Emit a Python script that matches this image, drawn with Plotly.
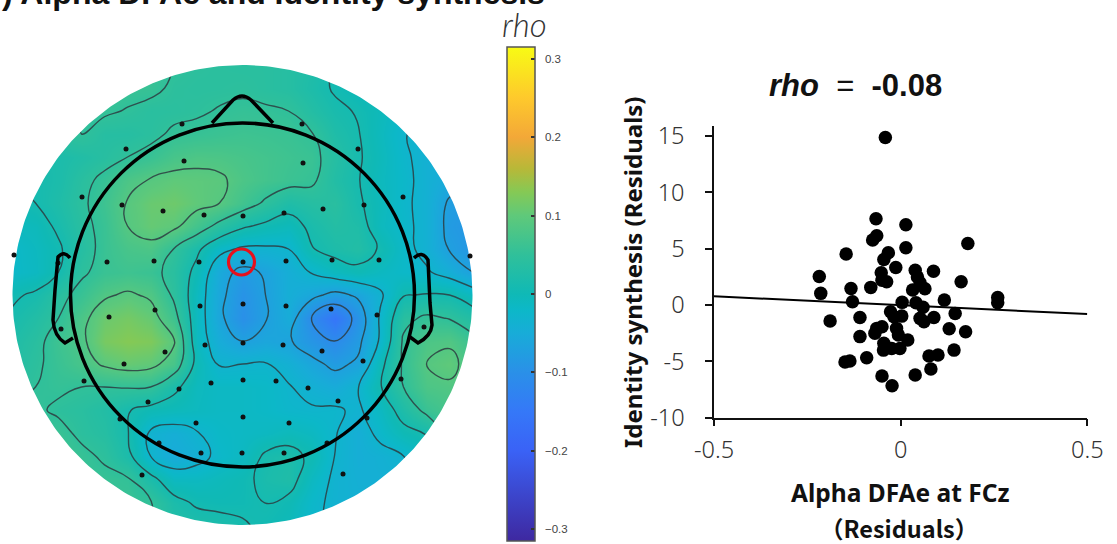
import numpy as np
import plotly.graph_objects as go

# ---------- data ----------
map_x = [12.5 + 23 * i for i in range(21)]
map_y = [65 + 23 * i for i in range(21)]
rho_top = [
 [.05,.05,.05,.06,.06,.06,.06,.05,.045,.042,.04,.04,.035,.025,.008,-.005,-.015,-.025,-.03,-.04,-.05],
 [.05,.05,.05,.06,.06,.06,.058,.045,.042,.043,.045,.04,.035,.022,.007,-.005,-.015,-.025,-.03,-.04,-.05],
 [.03,.03,.04,.05,.055,.048,.04,.042,.046,.052,.056,.054,.05,.032,.016,.008,-.005,-.02,-.03,-.04,-.05],
 [.03,.035,.045,.05,.035,.035,.042,.055,.058,.062,.065,.063,.06,.052,.025,.012,-.008,-.028,-.04,-.05,-.06],
 [.01,.015,.02,.028,.038,.05,.06,.075,.082,.08,.075,.07,.065,.06,.035,.014,-.005,-.025,-.04,-.05,-.06],
 [.01,.012,.02,.04,.058,.08,.092,.1,.098,.095,.08,.07,.062,.056,.03,.012,-.008,-.022,-.04,-.055,-.065],
 [.0,.01,.025,.044,.065,.092,.108,.112,.1,.09,.068,.045,.025,.035,.04,.015,-.005,-.024,-.04,-.075,-.085],
 [-.01,-.005,.016,.04,.06,.09,.105,.098,.07,.04,.015,.003,-.006,.018,.032,.025,-.008,-.022,-.04,-.08,-.09],
 [-.02,-.01,.005,.035,.06,.075,.08,.05,.018,-.02,-.035,-.035,-.03,.008,.022,.03,.006,-.02,-.04,-.072,-.09],
 [-.02,-.012,.01,.045,.06,.065,.06,.04,.0,-.055,-.08,-.066,-.045,-.028,-.01,.0,-.012,-.02,-.026,-.045,-.07],
 [.005,.015,.04,.06,.085,.095,.085,.045,-.01,-.06,-.095,-.07,-.045,-.06,-.08,-.065,-.035,.008,.012,.01,-.01],
]
rho_bottom = [
 [.015,.03,.05,.08,.11,.118,.105,.065,-.01,-.062,-.1,-.072,-.05,-.11,-.155,-.095,-.025,.04,.056,.048,.03],
 [.025,.04,.065,.082,.12,.13,.125,.095,-.01,-.05,-.07,-.06,-.066,-.09,-.11,-.08,-.025,.055,.08,.085,.06],
 [.03,.045,.06,.075,.095,.105,.1,.075,.0,-.032,-.03,-.028,-.04,-.06,-.078,-.065,.0,.055,.09,.1,.075],
 [.04,.05,.055,.05,.05,.052,.05,.018,-.008,-.015,-.015,-.018,-.028,-.04,-.05,-.032,.008,.05,.08,.085,.08],
 [.055,.055,.045,.04,.03,.012,.0,-.005,-.01,-.015,-.015,-.018,-.025,-.027,-.026,-.035,-.012,.025,.06,.075,.08],
 [.06,.06,.06,.043,.035,.012,-.035,-.045,-.032,-.018,-.015,-.012,-.005,-.012,-.028,-.045,-.022,.0,.012,.06,.07],
 [.07,.07,.07,.058,.045,.02,-.03,-.052,-.042,-.022,-.012,.015,.022,.003,-.03,-.045,-.04,-.03,-.01,.01,.04],
 [.06,.06,.06,.06,.058,.053,.02,-.012,-.012,-.005,.002,.018,.025,-.012,-.035,-.042,-.042,-.04,-.02,.0,.02],
 [.06,.06,.06,.06,.06,.06,.052,.02,.005,.002,.003,.011,.002,-.022,-.036,-.04,-.04,-.04,-.03,-.01,.01],
 [.06,.06,.06,.06,.06,.06,.05,.03,.025,.02,.013,.004,-.005,-.025,-.036,-.04,-.04,-.04,-.03,-.01,.01],
]
rho_grid = rho_top + rho_bottom

electrode_x = [182,302,126,358,184,303,82,403,122,163,204,243,284,323,364,14,470,58,107,154,199,243,286,332,379,
               200,243,286,331,377,109,155,61,424,165,124,205,243,283,322,363,84,401,211,243,276,308,179,148,338,
               120,367,243,196,289,159,327,201,242,284,142,343]
electrode_y = [124,124,149,149,161,163,197,197,205,211,215,216,213,209,205,255,256,263,262,261,262,262,261,260,260,
               306,304,306,309,315,317,310,329,327,352,364,345,343,345,351,361,381,379,383,380,381,388,389,402,401,
               419,418,417,423,423,443,443,453,453,453,475,474]

dfa_residuals = [-.041,-.066,.014,-.064,-.075,.014,.18,-.146,-.033,-.045,-.013,.039,.088,-.052,-.218,.045,-.0375,-.05,
                 .162,.052,-.133,-.08,.065,.032,-.214,.26,.26,.117,-.129,.004,.041,.06,-.027,.003,-.018,-.109,.089,
                 .052,.0625,.146,-.189,.13,.174,-.064,-.05,-.069,-.011,-.006,-.109,.019,-.045,-.024,-.002,-.046,.143,
                 .1,.076,-.091,-.136,-.149,.081,.039,-.05,-.023]
identity_residuals = [14.88,7.66,7.13,6.15,5.77,5.09,5.47,4.53,4.64,4.05,3.34,3.1,3.0,2.87,2.54,2.5,2.07,2.2,
                      2.07,1.98,1.48,1.57,1.45,1.33,1.04,.68,.2,.44,.3,.24,.2,-.2,-.6,-.98,-1.03,-1.1,-1.1,
                      -1.18,-1.48,-.74,-1.42,-2.1,-2.37,-2.07,-1.92,-2.5,-2.07,-2.66,-2.8,-3.1,-3.4,-3.85,-3.85,-4.0,-4.0,
                      -4.44,-4.53,-4.67,-4.97,-5.06,-5.68,-6.2,-6.3,-7.16]
fit_x = [-0.5, 0.5]
fit_y = [0.78, -0.8]

cbar_vals = [0.3, 0.2, 0.1, 0, -0.1, -0.2, -0.3]
cbar_text = ["\u00a0\u00a00.3", "\u00a0\u00a00.2", "\u00a0\u00a00.1", "\u00a0\u00a00", "\u00a0\u00a0−0.1", "\u00a0\u00a0−0.2", "\u00a0\u00a0−0.3"]
x_ticks = [-0.5, 0, 0.5]
x_labels = ["-0.5", "0", "0.5"]
y_ticks = [-10, -5, 0, 5, 10, 15]
y_labels = ["-10", "-5", "0", "5", "10", "15"]

# ---------- styling ----------
W, H = 1117, 544
ZMIN, ZMAX = -0.315, 0.315
stops = [(-.315, "#3e28a0"), (-.2, "#3a62f6"), (-.15, "#3578f8"), (-.1, "#2a90e8"), (-.05, "#18acd8"),
         (-.02, "#0cb8c8"), (0, "#0fb9b6"), (.05, "#30c09a"), (.1, "#5fc97a"), (.13, "#85c955"), (.16, "#b8b838"),
         (.2, "#f3a838"), (.25, "#fec92c"), (.315, "#f8fb14")]
colorscale = [[(v - ZMIN) / (ZMAX - ZMIN), c] for v, c in stops]
CX, CY, R, RH = 242.5, 295, 230, 172
TICKGREY = "#333333"
FONT = "Noto Sans"
BOLD = "Liberation Sans"

fig = go.Figure()

fig.add_trace(go.Heatmap(
    x=map_x, y=map_y, z=rho_grid, zmin=ZMIN, zmax=ZMAX, zsmooth="best",
    colorscale=colorscale, hoverinfo="skip", xaxis="x", yaxis="y",
    colorbar=dict(
        x=507 / W, xref="paper", xanchor="left", xpad=0, ypad=0,
        y=(H - 541) / H, yref="paper", yanchor="bottom", len=494 / H, lenmode="fraction",
        thickness=28, outlinecolor="#555555", outlinewidth=1.5,
        tickmode="array", tickvals=cbar_vals, ticktext=cbar_text,
        ticks="inside", ticklen=4, tickcolor="#333333", tickwidth=1.5,
        tickfont=dict(size=11.5, color="#444444", family=BOLD),
    ),
))
fig.add_trace(go.Contour(
    x=map_x, y=map_y, z=rho_grid, showscale=False, hoverinfo="skip", xaxis="x", yaxis="y",
    contours=dict(start=-0.11, end=0.09, size=0.04, coloring="none"),
    line=dict(color="rgba(45,60,65,0.85)", width=1.4, smoothing=1.3),
))

# white surround that turns the square map into a disc
t = np.linspace(0, 2 * np.pi, 361)
ring_x = [0, 0, 490, 490, 0, 0] + list(CX - R * np.cos(t)) + [0]
ring_y = [295, 40, 40, 544, 544, 295] + list(CY + R * np.sin(t)) + [295]
fig.add_trace(go.Scatter(x=ring_x, y=ring_y, mode="lines", fill="toself", fillcolor="white",
                         line=dict(width=0, color="white"), hoverinfo="skip", xaxis="x", yaxis="y"))

fig.add_trace(go.Scatter(x=electrode_x, y=electrode_y, mode="markers", cliponaxis=False,
                         marker=dict(size=5, color="#111111"), xaxis="x", yaxis="y"))

fig.add_trace(go.Scatter(x=fit_x, y=fit_y, mode="lines", line=dict(color="black", width=2),
                         xaxis="x2", yaxis="y2", cliponaxis=False))
fig.add_trace(go.Scatter(x=dfa_residuals, y=identity_residuals, mode="markers",
                         marker=dict(size=13.5, color="black"), xaxis="x2", yaxis="y2", cliponaxis=False))

HEAD = dict(color="black", width=3.5)
shapes = [
    dict(type="circle", xref="x", yref="y", x0=CX - RH, x1=CX + RH, y0=CY - RH, y1=CY + RH, line=HEAD),
    dict(type="path", xref="x", yref="y", line=HEAD,
         path="M 212 123 L 233 100 Q 242 92 251 100 L 273 123"),
    dict(type="path", xref="x", yref="y", line=HEAD,
         path="M 70 258 Q 64 250 58 257 L 55 290 L 53 320 Q 54 336 65 343 L 73 338"),
    dict(type="path", xref="x", yref="y", line=HEAD,
         path="M 414 258 Q 422 250 428 260 L 430 303 L 432 325 Q 431 336 418 343 L 410 337"),
    dict(type="circle", xref="x", yref="y", x0=228.5, x1=254.5, y0=249, y1=275,
         line=dict(color="#e8101c", width=3.2)),
]

annotations = [
    dict(text="<b>) Alpha DFAe and Identity synthesis</b>", xref="paper", yref="paper", x=0, y=1 - 13 / H,
         xanchor="left", yanchor="bottom", showarrow=False, font=dict(size=32, family=BOLD, color="#111111")),
    dict(text="<i>rho</i>", xref="paper", yref="paper", x=524 / W, y=1 - 24 / H, xanchor="center", yanchor="middle",
         showarrow=False, font=dict(size=33, family="Lato", color="#333333", weight=300)),
    dict(text="<b><i>rho</i></b>  =  <b>-0.08</b>", xref="paper", yref="paper", x=855.5 / W, y=1 - 85 / H,
         xanchor="center", yanchor="middle", showarrow=False, font=dict(size=31, family=BOLD, color="#111111")),
    dict(text="<b>Identity synthesis (Residuals)</b>", xref="paper", yref="paper", x=632 / W, y=1 - 272 / H,
         textangle=-90, xanchor="center", yanchor="middle", showarrow=False,
         font=dict(size=24, family=FONT, color="#111111")),
    dict(text="<b>Alpha DFAe at FCz</b>", xref="paper", yref="paper", x=900 / W, y=1 - 492 / H,
         xanchor="center", yanchor="middle", showarrow=False, font=dict(size=24.5, family=FONT, color="#111111")),
    dict(text="<b>（Residuals）</b>", xref="paper", yref="paper", x=899 / W, y=1 - 528 / H,
         xanchor="center", yanchor="middle", showarrow=False,
         font=dict(size=23.5, family="Noto Sans CJK JP", color="#111111")),
]

fig.update_layout(
    width=W, height=H, margin=dict(l=0, r=0, t=0, b=0, autoexpand=False), showlegend=False,
    paper_bgcolor="white", plot_bgcolor="white", shapes=shapes, annotations=annotations,
    xaxis=dict(domain=[0, 490 / W], range=[0, 490], visible=False, anchor="y"),
    yaxis=dict(domain=[0, 504 / H], range=[544, 40], visible=False, anchor="x"),
    xaxis2=dict(domain=[714 / W, 1087.3 / W], range=[-0.5, 0.5], anchor="y2", showgrid=False, zeroline=False,
                showline=True, linecolor="#111111", linewidth=1.5, ticks="outside", ticklen=7, tickwidth=1.5,
                tickcolor="#111111", tickmode="array", tickvals=x_ticks, ticktext=x_labels, ticklabelstandoff=3,
                tickfont=dict(size=23.5, family=FONT, color=TICKGREY, weight=300)),
    yaxis2=dict(domain=[(H - 417.7) / H, (H - 126) / H], range=[-10, 15.9], anchor="x2", showgrid=False, zeroline=False,
                showline=True, linecolor="#111111", linewidth=1.5, ticks="outside", ticklen=7, tickwidth=1.5,
                tickcolor="#111111", tickmode="array", tickvals=y_ticks, ticktext=y_labels, ticklabelstandoff=16,
                tickfont=dict(size=23.5, family=FONT, color=TICKGREY, weight=300)),
)

fig.write_html("out.html", config={"displayModeBar": False}, post_script="document.body.style.margin='0';")
